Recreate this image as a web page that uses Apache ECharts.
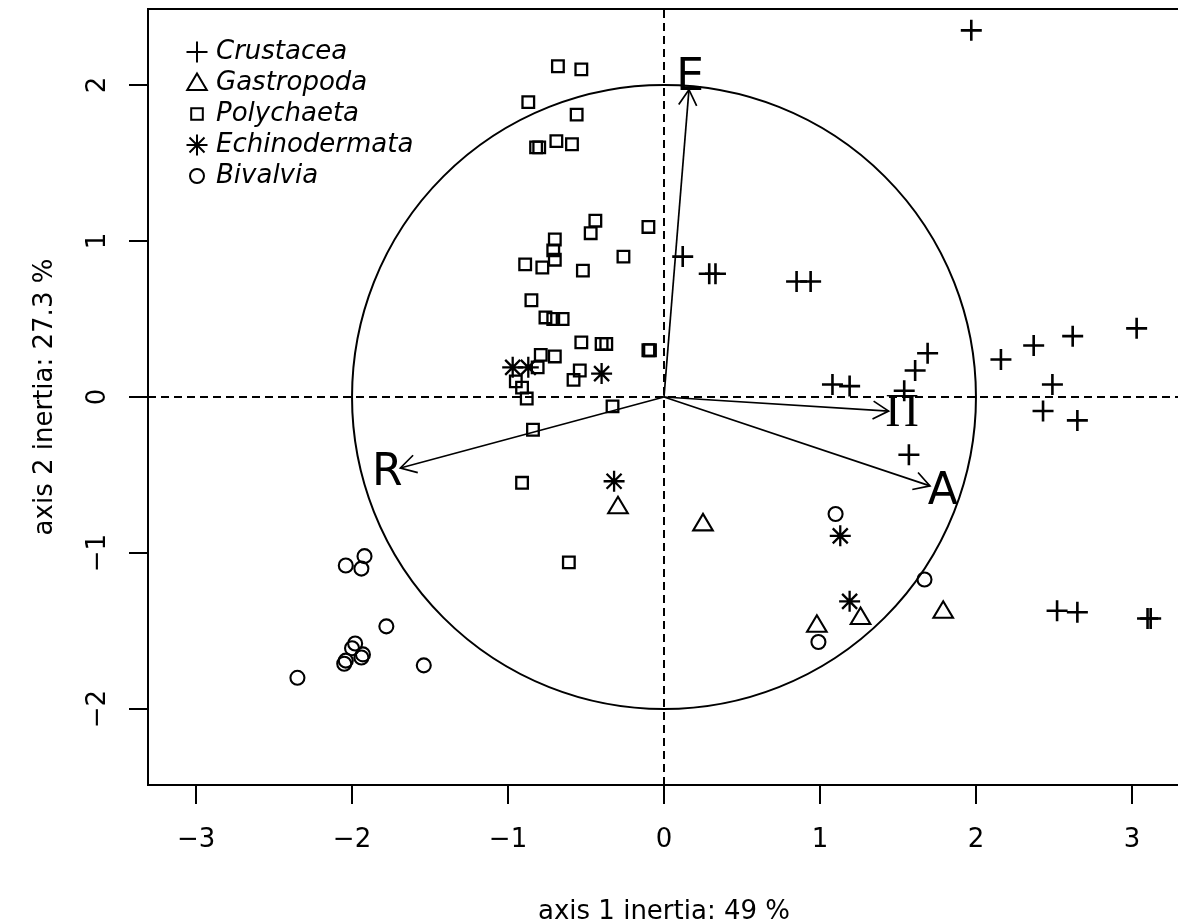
<!DOCTYPE html>
<html><head><meta charset="utf-8">
<script src="https://cdn.jsdelivr.net/npm/echarts@6/dist/echarts.min.js"></script>
<style>html,body{margin:0;padding:0;background:#fff}#c{width:1178px;height:924px}</style>
</head><body><div id="c"></div>
<script>
// ---- data ----
const categories = ['Crustacea', 'Gastropoda', 'Polychaeta', 'Echinodermata', 'Bivalvia'];

const crustaceaX = [1.97, 0.12, 0.29, 0.33, 0.85, 0.94, 1.08, 1.19, 1.54, 1.61, 1.69, 1.57, 2.16, 2.37, 2.62, 3.03, 2.49, 2.43, 2.65, 2.52, 2.65, 3.10, 3.12];
const crustaceaY = [2.35, 0.90, 0.79, 0.79, 0.74, 0.74, 0.08, 0.07, 0.04, 0.17, 0.28, -0.37, 0.24, 0.33, 0.39, 0.44, 0.08, -0.09, -0.15, -1.37, -1.38, -1.42, -1.42];

const gastropodaX = [-0.295, 0.25, 0.98, 1.26, 1.79];
const gastropodaY = [-0.70, -0.81, -1.46, -1.41, -1.37];

const polychaetaX = [-0.68, -0.53, -0.87, -0.56, -0.82, -0.80, -0.69, -0.59, -0.44, -0.47, -0.10, -0.70, -0.71, -0.70, -0.26, -0.89, -0.78, -0.52, -0.85, -0.76, -0.71, -0.65, -0.53, -0.40, -0.37, -0.10, -0.09, -0.79, -0.70, -0.81, -0.54, -0.58, -0.95, -0.91, -0.88, -0.33, -0.84, -0.91, -0.61];
const polychaetaY = [2.12, 2.10, 1.89, 1.81, 1.60, 1.60, 1.64, 1.62, 1.13, 1.05, 1.09, 1.01, 0.94, 0.88, 0.90, 0.85, 0.83, 0.81, 0.62, 0.51, 0.50, 0.50, 0.35, 0.34, 0.34, 0.30, 0.30, 0.27, 0.26, 0.19, 0.17, 0.11, 0.10, 0.06, -0.01, -0.06, -0.21, -0.55, -1.06];

const echinodermataX = [-0.97, -0.87, -0.40, -0.32, 1.13, 1.19];
const echinodermataY = [0.19, 0.19, 0.15, -0.54, -0.89, -1.31];

const bivalviaX = [-2.04, -1.92, -1.94, -1.78, -1.54, -2.35, -1.98, -2.00, -2.04, -2.05, -1.93, -1.94, 1.10, 1.67, 0.99];
const bivalviaY = [-1.08, -1.02, -1.10, -1.47, -1.72, -1.80, -1.58, -1.61, -1.69, -1.71, -1.65, -1.67, -0.75, -1.17, -1.57];

const arrowNames = ['E', 'Π', 'A', 'R'];
const arrowX = [0.16, 1.44, 1.705, -1.69];
const arrowY = [1.97, -0.09, -0.57, -0.455];

const circleRadius = [2];

const xTicks = [-3, -2, -1, 0, 1, 2, 3];
const yTicks = [-2, -1, 0, 1, 2];

const xTitle = 'axis 1 inertia: 49 %';
const yTitle = 'axis 2 inertia: 27.3 %';

// ---- styling ----
const FONT = 'DejaVu Sans';
const PAD = 'M -12 -12 M 12 12 ';
const symbols = {
  Crustacea: 'path://' + PAD + 'M -10.5 0 L 10.5 0 M 0 -10.5 L 0 10.5',
  Gastropoda: 'path://' + PAD + 'M 0 -9.5 L 9.8 7 L -9.8 7 Z',
  Polychaeta: 'path://' + PAD + 'M -5.8 -5.8 L 5.8 -5.8 L 5.8 5.8 L -5.8 5.8 Z',
  Echinodermata: 'path://' + PAD + 'M -10.5 0 L 10.5 0 M 0 -10.5 L 0 10.5 M -7.5 -7.5 L 7.5 7.5 M -7.5 7.5 L 7.5 -7.5',
  Bivalvia: 'path://' + PAD + 'M 7 0 A 7 7 0 1 1 -7 0 A 7 7 0 1 1 7 0 Z'
};
const lineW = { Crustacea: 2.6, Gastropoda: 2.1, Polychaeta: 2.3, Echinodermata: 2.3, Bivalvia: 2.1 };
const seriesData = {
  Crustacea: [crustaceaX, crustaceaY],
  Gastropoda: [gastropodaX, gastropodaY],
  Polychaeta: [polychaetaX, polychaetaY],
  Echinodermata: [echinodermataX, echinodermataY],
  Bivalvia: [bivalviaX, bivalviaY]
};
const minus = v => String(v).replace('-', '\u2212');

const scatterSeries = categories.map((name, k) => {
  const [xs, ys] = seriesData[name];
  const s = {
    type: 'scatter', name, silent: true, z: 4,
    data: xs.map((x, i) => [x, ys[i]]),
    symbol: symbols[name], symbolSize: 24,
    itemStyle: { color: 'rgba(0,0,0,0)', borderColor: '#000', borderWidth: lineW[name], opacity: 1 },
    emphasis: { disabled: true }
  };
  if (k === 0) {
    s.markLine = {
      silent: true, symbol: ['none', 'none'], animation: false,
      label: { show: false },
      lineStyle: { color: '#000', width: 2, type: [8, 5] },
      emphasis: { disabled: true },
      data: [{ xAxis: 0 }, { yAxis: 0 }]
    };
  }
  return s;
});

const circleSeries = {
  type: 'custom', silent: true, z: 2,
  data: [[0, 0, circleRadius[0]]],
  encode: { x: 0, y: 1 },
  renderItem: (p, api) => {
    const c = api.coord([api.value(0), api.value(1)]);
    const r = api.size([api.value(2), 0])[0];
    return { type: 'circle', shape: { cx: c[0], cy: c[1], r }, style: { fill: 'none', stroke: '#000', lineWidth: 2 } };
  }
};

const arrowSeries = {
  type: 'custom', silent: true, z: 3, clip: false,
  data: arrowX.map((x, i) => [x, arrowY[i], i]),
  encode: { x: 0, y: 1 },
  renderItem: (p, api) => {
    const o = api.coord([0, 0]);
    const t = api.coord([api.value(0), api.value(1)]);
    const dx = t[0] - o[0], dy = t[1] - o[1], L = Math.hypot(dx, dy);
    const ux = dx / L, uy = dy / L;
    const hl = 18, a = 30 * Math.PI / 180;
    const bx = -ux, by = -uy;
    const rot = (ang) => [t[0] + hl * (bx * Math.cos(ang) - by * Math.sin(ang)), t[1] + hl * (bx * Math.sin(ang) + by * Math.cos(ang))];
    const name = arrowNames[api.value(2)];
    const serif = name === 'Π';
    return {
      type: 'group', children: [
        { type: 'line', shape: { x1: o[0], y1: o[1], x2: t[0], y2: t[1] }, style: { stroke: '#000', lineWidth: 1.7 } },
        { type: 'polyline', shape: { points: [rot(a), t, rot(-a)] }, style: { stroke: '#000', fill: null, lineWidth: 1.7 } },
        { type: 'text', style: { text: name, x: t[0] + ux * 13.5, y: t[1] + uy * 13.5 + 2, align: 'center', verticalAlign: 'middle', fill: '#000',
          font: serif ? '46px "Liberation Serif"' : '44px "DejaVu Sans"' } }
      ]
    };
  }
};

const chart = echarts.init(document.getElementById('c'), null, { renderer: 'canvas' });
chart.setOption({
  animation: false,
  backgroundColor: '#fff',
  grid: { left: 148, top: 9, width: 1032, height: 776, show: true, borderColor: '#000', borderWidth: 2, backgroundColor: 'transparent', containLabel: false, outerBoundsMode: 'none' },
  legend: {
    orient: 'vertical', left: 184, top: 36.5, padding: 0,
    itemWidth: 24, itemHeight: 24, itemGap: 0, selectedMode: false,
    textStyle: { fontFamily: FONT, fontSize: 26, fontStyle: 'italic', color: '#000', lineHeight: 31, padding: [0, 0, 0, 2] },
    data: categories
  },
  xAxis: {
    type: 'value', min: -3.308, max: 3.308,
    axisLine: { show: true, onZero: false, lineStyle: { color: '#000', width: 2 } },
    splitLine: { show: false },
    axisTick: { show: true, inside: false, length: 19, customValues: xTicks, lineStyle: { color: '#000', width: 2 } },
    axisLabel: { show: true, customValues: xTicks, margin: 42, fontFamily: FONT, fontSize: 26, color: '#000', formatter: minus },
    name: xTitle, nameLocation: 'middle', nameGap: 114,
    nameTextStyle: { fontFamily: FONT, fontSize: 26, color: '#000' }
  },
  yAxis: {
    type: 'value', min: -2.487, max: 2.487,
    axisLine: { show: true, onZero: false, lineStyle: { color: '#000', width: 2 } },
    splitLine: { show: false },
    axisTick: { show: true, inside: false, length: 19, customValues: yTicks, lineStyle: { color: '#000', width: 2 } },
    axisLabel: { show: true, customValues: yTicks, margin: 37, rotate: 90, fontFamily: FONT, fontSize: 26, color: '#000', formatter: minus },
    name: yTitle, nameLocation: 'middle', nameGap: 90, nameRotate: 90,
    nameTextStyle: { fontFamily: FONT, fontSize: 26, color: '#000' }
  },
  series: [circleSeries, arrowSeries, ...scatterSeries]
});
</script>
</body></html>
